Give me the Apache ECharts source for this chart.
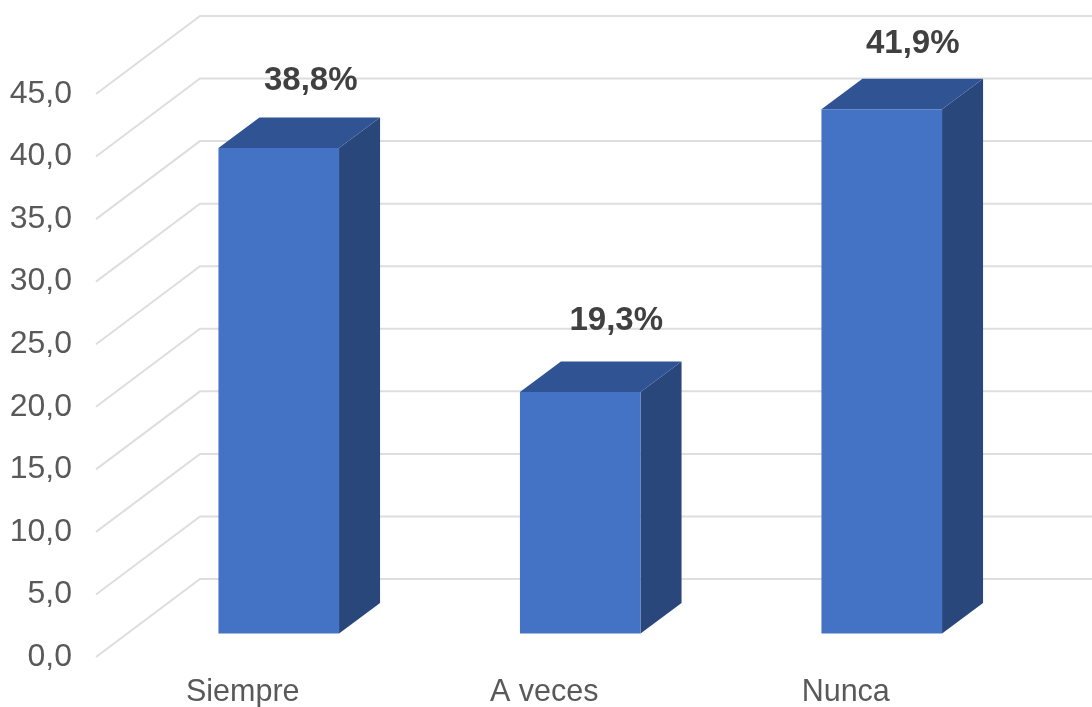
<!DOCTYPE html>
<html>
<head>
<meta charset="utf-8">
<style>html,body{margin:0;padding:0;background:#fff}#c{width:1092px;height:707px}</style>
<script src="https://cdn.jsdelivr.net/npm/echarts@6/dist/echarts.min.js"></script>
</head>
<body>
<div id="c"></div>
<script>
const categories = ['Siempre', 'A veces', 'Nunca'];
const values = [38.8, 19.3, 41.9];
const valueLabels = ['38,8%', '19,3%', '41,9%'];
const gridValues = [0, 5, 10, 15, 20, 25, 30, 35, 40, 45];

// 3D projection of the plot box
const WALL_DX = 104, WALL_DY = 78;          // front plane to back wall
const BAR_OFF_DX = 31.5, BAR_OFF_DY = 23.5; // front plane to bar front face
const BAR_DX = 41, BAR_DY = 30.5;           // bar depth
const LABEL_SHIFT = [[0, 2], [4, -2], [-1, 4]]; // fine placement of the value labels
const FONT = '"Liberation Sans", Arial, sans-serif';

const chart = echarts.init(document.getElementById('c'), null, { renderer: 'canvas' });
chart.setOption({
  animation: false,
  backgroundColor: '#ffffff',
  grid: { left: 96, right: 91.5, top: 94, bottom: 50, containLabel: false, outerBoundsMode: 'none' },
  xAxis: {
    type: 'category',
    data: categories,
    axisLine: { show: false },
    axisTick: { show: false },
    splitLine: { show: false },
    axisLabel: {
      color: '#595959', fontFamily: FONT, fontSize: 30.5,
      margin: 20, padding: [0, 8, 0, 0]
    }
  },
  yAxis: {
    type: 'value',
    min: 0, max: 45, interval: 5,
    axisLine: { show: false },
    axisTick: { show: false },
    splitLine: { show: false },
    axisLabel: {
      color: '#595959', fontFamily: FONT, fontSize: 32, margin: 24,
      formatter: v => v.toFixed(1).replace('.', ',')
    }
  },
  series: [
    {
      type: 'custom',
      coordinateSystem: 'cartesian2d',
      clip: false,
      silent: true,
      z: 1,
      data: gridValues.map(v => [0, v]),
      encode: { x: 0, y: 1 },
      renderItem(params, api) {
        const y = api.coord([0, api.value(1)])[1];
        const x0 = params.coordSys.x;
        return {
          type: 'polyline',
          shape: { points: [[x0, y], [x0 + WALL_DX, y - WALL_DY], [1092, y - WALL_DY]] },
          style: { fill: null, stroke: '#dedede', lineWidth: 2 }
        };
      }
    },
    {
      type: 'custom',
      coordinateSystem: 'cartesian2d',
      clip: false,
      silent: true,
      z: 2,
      data: values.map((v, i) => [i, v]),
      encode: { x: 0, y: 1 },
      renderItem(params, api) {
        const i = api.value(0), v = api.value(1);
        const top = api.coord([i, v]);
        const base = api.coord([i, 0]);
        const w = api.size([1, 0])[0] * 0.4;
        const l = top[0] - w / 2 + BAR_OFF_DX + 0.5, r = l + w;
        const t = top[1] - BAR_OFF_DY, b = base[1] - BAR_OFF_DY;
        const shift = LABEL_SHIFT[params.dataIndex];
        return {
          type: 'group',
          children: [
            { type: 'polygon', shape: { points: [[r, t], [r + BAR_DX, t - BAR_DY], [r + BAR_DX, b - BAR_DY], [r, b]] },
              style: { fill: '#2A477C' } },
            { type: 'polygon', shape: { points: [[l, t], [l + BAR_DX, t - BAR_DY], [r + BAR_DX, t - BAR_DY], [r, t]] },
              style: { fill: '#305493' } },
            { type: 'rect', shape: { x: l, y: t, width: w, height: b - t },
              style: { fill: '#4472C4' } },
            { type: 'text',
              style: {
                x: (l + r) / 2 + BAR_DX * 0.78 + shift[0], y: t - BAR_DY - 39 + shift[1],
                text: valueLabels[params.dataIndex],
                fill: '#404040', font: 'bold 33px ' + FONT,
                align: 'center', verticalAlign: 'middle'
              } }
          ]
        };
      }
    }
  ]
});
</script>
</body>
</html>
